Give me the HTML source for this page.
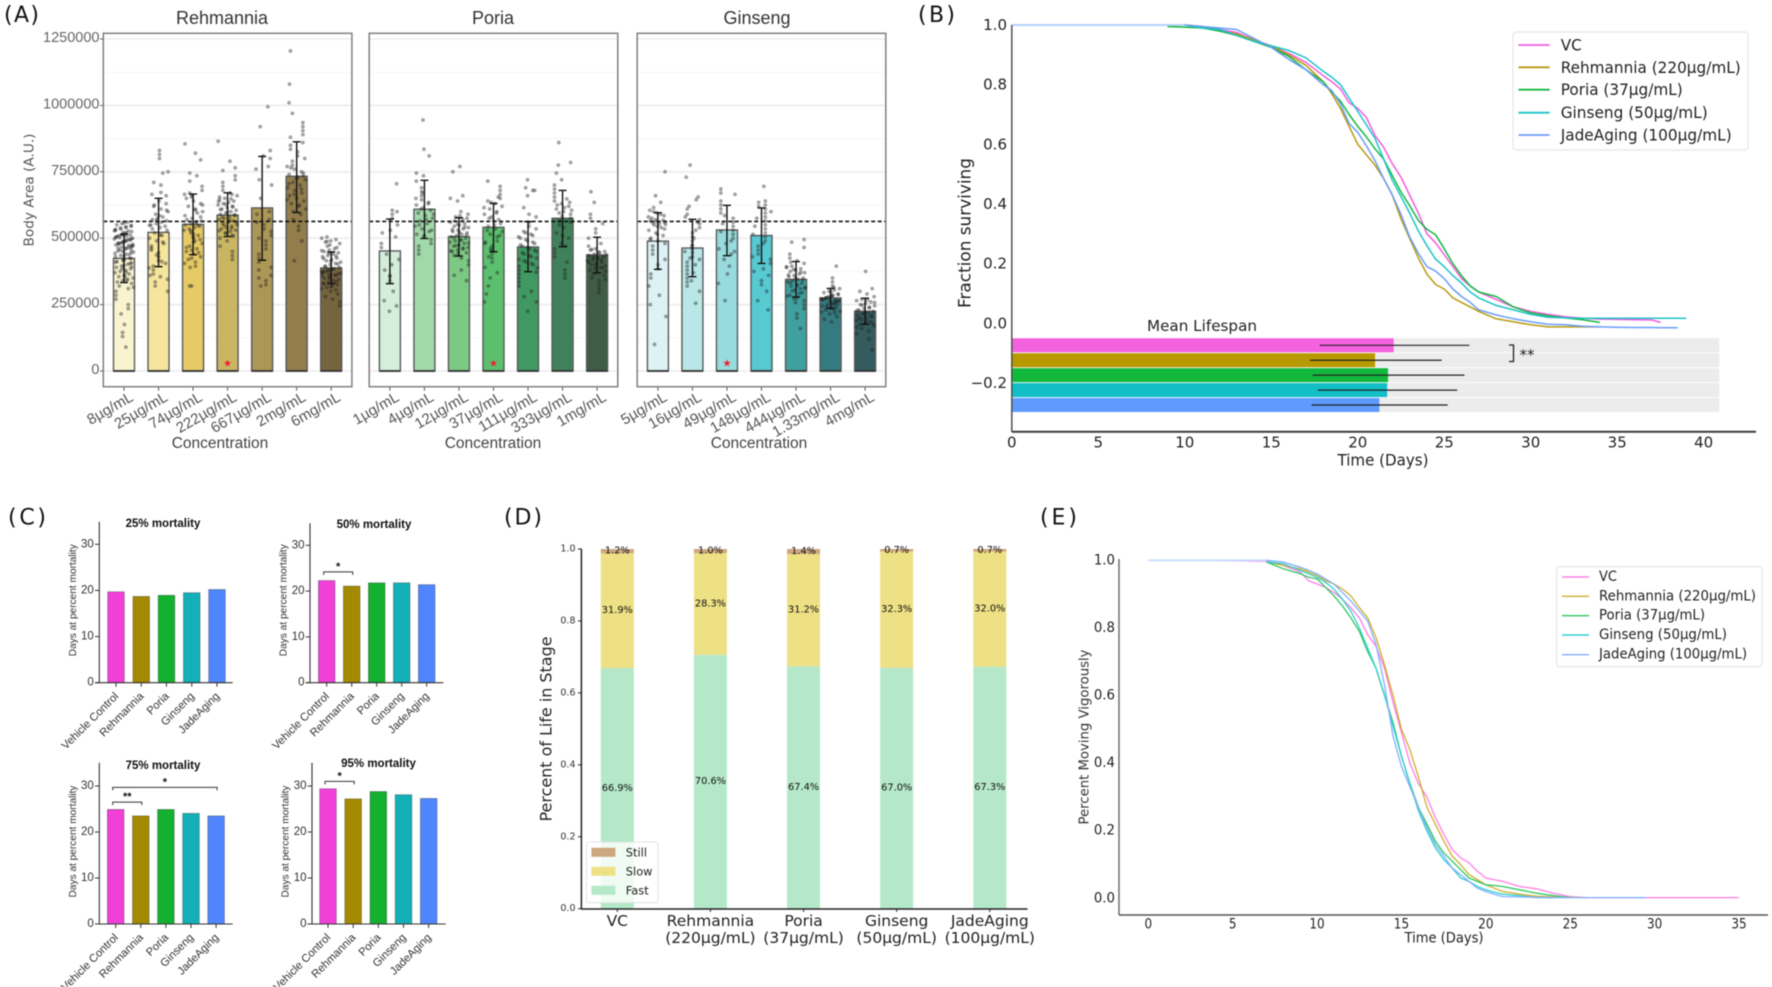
<!DOCTYPE html>
<html lang="en">
<head>
<meta charset="utf-8">
<title>Body area, lifespan and movement figure</title>
<style>
html,body{margin:0;padding:0;background:#fff;}
body{width:1772px;height:987px;overflow:hidden;}
#fig{display:block;filter:blur(0.45px);}
</style>
</head>
<body>
<svg id="fig" xmlns="http://www.w3.org/2000/svg" width="1772" height="987" viewBox="0 0 1772 987" font-family="'Liberation Sans',sans-serif">
  <rect width="1772" height="987" fill="#fff"/>
  <g id="panelA">
    <text x="4" y="22" font-size="22" font-family="'DejaVu Sans',sans-serif" fill="#111" textLength="35" lengthAdjust="spacing">(A)</text>
  </g>
  <g id="panelB">
    <text x="918" y="22" font-size="22" font-family="'DejaVu Sans',sans-serif" fill="#111" textLength="37" lengthAdjust="spacing">(B)</text>
  </g>
  <g id="panelC">
    <text x="8" y="524.5" font-size="22" font-family="'DejaVu Sans',sans-serif" fill="#111" textLength="38" lengthAdjust="spacing">(C)</text>
  </g>
  <g id="panelD">
    <text x="504" y="524.5" font-size="22" font-family="'DejaVu Sans',sans-serif" fill="#111" textLength="38" lengthAdjust="spacing">(D)</text>
  </g>
  <g id="panelE">
    <text x="1040" y="524.5" font-size="22" font-family="'DejaVu Sans',sans-serif" fill="#111" textLength="37" lengthAdjust="spacing">(E)</text>
  </g>
</svg>
<script>
/* ---------- Panel A data ---------- */
const aYTicks = [0, 250000, 500000, 750000, 1000000, 1250000];
const aReference = 563000;
const rehmanniaLabels = ["8µg/mL","25µg/mL","74µg/mL","222µg/mL","667µg/mL","2mg/mL","6mg/mL"];
const rehmanniaMeans = [424,522,552,587,614,733,388];
const rehmanniaUpper = [515,650,666,671,808,863,448];
const rehmanniaLower = [333,393,438,506,417,597,329];
const rehmanniaDots = [
 [90,130,145,175,215,235,250,270,285,300,310,315,320,330,335,340,345,350,355,360,365,370,375,380,385,390,395,398,402,405,410,412,418,420,425,430,435,440,445,448,452,455,460,462,465,468,470,472,475,478,480,483,485,488,490,492,495,498,500,503,505,507,510,513,515,518,520,525,528,530,535,540,545,550,555,560,342,356,372,384,392,407,416,423,433,438,443,450,457,463,467,473,477,482,487,493,497,502,508,512,522,527,533,538,543,548,558],
 [300,320,335,345,355,365,380,395,405,415,430,445,455,470,480,490,500,510,520,530,540,545,550,555,560,565,570,575,580,590,600,610,620,630,640,660,665,700,710,745,750,800,815,830,360,388,412,437,462,485,512,535,548,568,585,605,625,672],
 [320,320,390,395,410,420,430,440,450,455,460,470,480,490,495,505,510,520,530,535,540,545,550,555,560,565,570,575,585,595,600,610,620,630,640,650,655,665,670,680,695,715,735,745,795,820,855,405,425,445,465,485,500,515,528,548,562,580,605,625,660],
 [420,435,450,470,490,500,510,520,525,530,535,540,545,550,555,560,565,570,575,580,585,590,595,600,605,610,615,620,625,630,635,640,645,650,660,670,680,695,710,720,735,755,765,790,865,508,518,528,538,548,558,568,578,588,598,608,618,628,638,648,655,665],
 [320,325,340,350,360,380,390,410,425,440,460,475,490,500,510,525,535,550,560,570,590,600,650,700,720,760,770,800,810,830,920,995],
 [415,490,530,545,570,590,600,610,620,630,640,650,660,670,680,690,700,710,720,730,735,740,750,760,770,775,790,800,810,825,835,850,860,880,890,905,920,935,970,1010,1080,1205,625,645,665,685,705,725,745,765],
 [245,260,270,280,290,300,305,310,315,320,325,330,335,340,345,350,355,360,362,365,368,370,372,375,378,380,385,390,395,400,405,410,415,420,425,430,435,440,445,450,455,460,470,480,485,490,495,500,505,318,328,338,348,358,364,374,383,393,403,413,423,433,443,453,465,475,488]
];
const poriaLabels = ["1µg/mL","4µg/mL","12µg/mL","37µg/mL","111µg/mL","333µg/mL","1mg/mL"];
const poriaMeans = [452,609,506,541,467,575,437];
const poriaUpper = [572,718,577,631,562,680,504];
const poriaLower = [329,499,433,449,374,468,370];
const poriaDots = [
 [225,245,265,300,340,355,380,400,420,440,465,480,505,530,550,575,590,605,705,360,520,600],
 [440,455,470,480,495,505,515,525,535,545,555,565,575,585,595,605,615,625,635,645,660,675,690,715,735,745,810,835,945,510,530,550,570,590,610,630,650,670],
 [340,360,380,400,415,425,435,445,450,455,460,465,470,475,480,485,490,495,500,505,510,515,520,525,530,535,540,545,550,555,560,570,580,590,600,640,650,660,750,770,442,452,462,472,482,492,502,512,522,532,542,552,565,575,585],
 [260,290,320,350,370,390,410,425,440,455,470,480,490,505,515,525,535,545,555,565,570,580,590,600,610,620,630,640,650,665,680,695,715,430,460,485,510,530,550,575,595,615,635,655],
 [225,260,280,300,320,335,350,365,380,395,405,415,425,435,445,455,465,475,485,495,505,515,525,535,545,560,580,590,615,660,680,680,690,720,372,388,400,410,420,430,440,450,460,470,480,490,500,510,520],
 [350,365,380,410,430,445,460,480,500,520,540,560,575,590,600,610,620,630,640,655,670,685,700,720,745,775,785,860,470,510,550,565,582,595,605,615,625,635,648],
 [295,310,325,340,350,360,370,380,385,390,395,400,405,410,415,420,425,430,435,440,445,450,455,460,470,480,500,520,535,555,575,590,635,675,345,365,375,388,398,408,418,428,438,448,458]
];
const ginsengLabels = ["5µg/mL","16µg/mL","49µg/mL","148µg/mL","444µg/mL","1.33mg/mL","4mg/mL"];
const ginsengMeans = [489,463,531,510,345,275,225];
const ginsengUpper = [596,571,624,614,412,311,274];
const ginsengLower = [383,355,434,405,279,236,176];
const ginsengDots = [
 [100,205,250,285,320,350,365,385,400,420,440,455,470,480,490,500,510,520,530,540,550,555,560,565,570,580,590,600,615,635,660,750,495,515,535,545,552,558,562,568,575,585,595,605],
 [255,300,320,335,350,365,380,395,410,420,430,445,460,475,490,505,520,540,555,570,590,620,655,730,775,340,370,400,425,450,470,500,530,560,580,610,645],
 [265,330,365,395,420,440,460,480,500,515,530,545,560,575,595,610,625,640,665,670,685,450,490,525,555,585],
 [230,265,300,325,340,360,385,405,420,440,455,470,490,505,520,535,550,565,580,595,610,625,640,695,375,430,480,515,545,575,600,620,635],
 [160,200,215,235,250,265,275,285,295,305,310,315,320,325,330,335,340,345,350,355,360,365,370,375,380,385,390,395,405,415,425,440,465,485,495,258,272,282,292,302,312,322,332,342,352,362,372,382,392,410],
 [185,195,205,215,220,225,230,235,240,245,250,255,258,260,263,265,268,270,273,275,278,280,283,285,290,295,300,305,310,320,335,350,395,222,232,242,248,252,262,267,272,277,282,288,298,315],
 [80,120,140,150,160,170,175,180,185,190,195,200,205,210,215,220,225,230,235,240,245,250,255,260,265,270,280,290,300,310,375,165,178,188,198,208,218,228,238,248,258,268]
];

/* ---------- Panel B data ---------- */
const survivalDays = [0,9,10,11,12,13,14,15,16,17,18,18.5,19,19.5,20,20.5,21,21.5,22,22.5,23,23.5,24,24.5,25,25.5,26,26.5,27,28,29,30,31,32,33,34,35,36,37,37.5,38,38.5,39];
const survivalVC = [null,null,1,.995,.985,.975,.95,.93,.905,.875,.83,.81,.785,.74,.72,.69,.63,.59,.535,.49,.43,.37,.30,.27,.23,.19,.15,.125,.105,.08,.055,.04,.03,.022,.017,.014,.013,.012,.011,.003,null,null,null];
const survivalRehmannia = [null,null,1,.995,.98,.97,.95,.93,.9,.865,.81,.77,.72,.66,.6,.565,.53,.485,.43,.35,.285,.22,.165,.13,.115,.085,.07,.055,.04,.015,.005,-.005,-.012,-.012,-.012,-.012,null,null,null,null,null,null,null];
const survivalPoria = [null,.995,.993,.99,.98,.965,.945,.925,.895,.85,.81,.775,.745,.7,.66,.625,.585,.55,.495,.44,.395,.345,.315,.297,.25,.2,.16,.125,.105,.09,.055,.035,.025,.018,.012,.003,null,null,null,null,null,null,null];
const survivalGinseng = [null,null,1,.99,.985,.965,.945,.93,.915,.89,.845,.825,.8,.755,.71,.665,.62,.55,.48,.425,.37,.31,.26,.215,.19,.16,.135,.105,.085,.06,.045,.03,.02,.018,.017,.017,.017,.017,.017,.017,.017,.017,.017];
const survivalJadeAging = [1,1,1,.995,.99,.985,.955,.925,.885,.85,.8,.78,.735,.67,.64,.595,.545,.485,.43,.365,.29,.235,.19,.175,.15,.115,.09,.07,.045,.028,.015,.005,-.003,-.005,-.01,-.012,-.013,-.014,-.014,-.015,-.015,-.015,null];
const meanLifespan = [22.08,21.0,21.75,21.7,21.25];
const lifespanErrLow = [17.8,17.23,17.4,17.7,17.33];
const lifespanErrHigh = [26.46,24.85,26.17,25.75,25.2];
const lifespanLimit = 40.9;
const bXTicks = [0,5,10,15,20,25,30,35,40];
const bYTicks = [1.0,0.8,0.6,0.4,0.2,0.0,-0.2];
const seriesNames = ["VC","Rehmannia (220µg/mL)","Poria (37µg/mL)","Ginseng (50µg/mL)","JadeAging (100µg/mL)"];

/* ---------- Panel C data ---------- */
const mortalityGroups = ["Vehicle Control","Rehmannia","Poria","Ginseng","JadeAging"];
const mortality25 = [19.7,18.7,18.95,19.5,20.2];
const mortality50 = [22.3,21.1,21.8,21.8,21.4];
const mortality75 = [24.9,23.5,24.9,24.05,23.5];
const mortality95 = [29.4,27.2,28.8,28.1,27.3];
const mortalityTicks = [0,10,20,30];

/* ---------- Panel D data ---------- */
const stageGroups = [["VC"],["Rehmannia","(220µg/mL)"],["Poria","(37µg/mL)"],["Ginseng","(50µg/mL)"],["JadeAging","(100µg/mL)"]];
const stageFast = [66.9,70.6,67.4,67.0,67.3];
const stageSlow = [31.9,28.3,31.2,32.3,32.0];
const stageStill = [1.2,1.0,1.4,0.7,0.7];
const stageTicks = [0,0.2,0.4,0.6,0.8,1.0];

/* ---------- Panel E data ---------- */
const moveDays = [0,4,7,8,9,9.5,10,10.5,11,11.5,12,12.5,13,13.5,14,14.5,15,15.5,16,16.5,17,17.5,18,18.5,19,19.5,20,20.5,21,22,23,24,25,26,29.5,35];
const moveVC = [null,1,.997,.985,.965,.94,.93,.92,.905,.885,.86,.83,.78,.745,.68,.58,.49,.4,.34,.3,.24,.19,.145,.12,.105,.08,.06,.055,.05,.035,.028,.015,.005,.002,.002,.002];
const moveRehmannia = [null,null,.995,.985,.975,.965,.955,.94,.93,.915,.895,.86,.83,.77,.69,.6,.5,.44,.36,.27,.22,.17,.125,.1,.07,.055,.04,.03,.02,.012,.006,.004,.003,.002,null,null];
const movePoria = [null,null,.995,.975,.96,.95,.945,.92,.895,.865,.83,.79,.73,.68,.6,.52,.42,.34,.27,.22,.17,.135,.11,.085,.06,.05,.04,.038,.035,.025,.015,.008,.002,null,null,null];
const moveGinseng = [null,null,.995,.99,.97,.96,.95,.935,.915,.885,.85,.8,.74,.68,.6,.51,.42,.34,.26,.2,.15,.115,.09,.06,.05,.035,.025,.018,.012,.008,.002,.002,null,null,null,null];
const moveJadeAging = [1,1,1,.995,.98,.97,.96,.945,.93,.905,.88,.85,.82,.75,.63,.48,.39,.33,.27,.21,.16,.125,.09,.07,.05,.03,.02,.012,.005,.004,.003,.002,.002,.002,.002,null];
const eXTicks = [0,5,10,15,20,25,30,35];
const eYTicks = [0,0.2,0.4,0.6,0.8,1.0];

/* ---------- helpers ---------- */
const NS = "http://www.w3.org/2000/svg";
const LS = "'Liberation Sans',sans-serif";
const DV = "'DejaVu Sans',sans-serif";
function mk(parent, tag, attrs, content) {
  const el = document.createElementNS(NS, tag);
  for (const k in attrs) el.setAttribute(k, attrs[k]);
  if (content !== undefined) el.textContent = content;
  parent.appendChild(el);
  return el;
}
function scale(d0, d1, r0, r1) { return v => r0 + (v - d0) * (r1 - r0) / (d1 - d0); }
function label(parent, x, y, s, size, fill, anchor, family, rot, len) {
  const a = {x:x, y:y, "font-size":size, fill:fill, "text-anchor":anchor, "dominant-baseline":"central", "font-family":family};
  if (rot) a.transform = "rotate(" + rot + " " + x + " " + y + ")";
  if (len) { a.textLength = len; a.lengthAdjust = "spacingAndGlyphs"; }
  return mk(parent, "text", a, s);
}
function pointsOf(days, vals, xs, ys) {
  const p = [];
  vals.forEach((v, i) => { if (v !== null) p.push(xs(days[i]).toFixed(1) + "," + ys(v).toFixed(1)); });
  return p.join(" ");
}
function squeezedWidth(s, size, factor) {
  const digits = s.replace(".", "").length;
  const dots = s.length - digits;
  return (digits * 0.636 + dots * 0.318) * size * factor;
}

/* ---------- Panel A ---------- */
(function () {
  const root = document.getElementById("panelA");
  const yA = scale(0, 1250000, 371, 39);
  const panels = [
    {title:"Rehmannia", left:103.3, labels:rehmanniaLabels, means:rehmanniaMeans, up:rehmanniaUpper, lo:rehmanniaLower, dots:rehmanniaDots, star:3, titleX:222, concX:220,
     colors:["#f9f3d0","#f6e59c","#e5ca66","#c9b562","#ad9757","#927d4b","#75653f"]},
    {title:"Poria", left:369.2, labels:poriaLabels, means:poriaMeans, up:poriaUpper, lo:poriaLower, dots:poriaDots, star:3, titleX:493, concX:493,
     colors:["#d3eedb","#a2d9aa","#7cc984","#5cbf6e","#409862","#3f825a","#3f5d45"]},
    {title:"Ginseng", left:637.2, labels:ginsengLabels, means:ginsengMeans, up:ginsengUpper, lo:ginsengLower, dots:ginsengDots, star:2, titleX:757, concX:759,
     colors:["#dcf2f5","#b9e6e7","#98dbde","#57c9d1","#409f9f","#347b7f","#345b5d"]}
  ];
  panels.forEach((pn) => {
    const w = 248.6, right = pn.left + w, top = 33.3, bot = 386.7;
    const g = mk(root, "g", {});
    
    
    const ttl = label(g, pn.titleX, 18, pn.title, 18, "#333", "middle", LS);
    
    
    for (let t = 0; t <= 1250000; t += 125000) {
      const major = t % 250000 === 0;
      const gl = mk(g, "line", {x1:pn.left, x2:right, y1:yA(t), y2:yA(t), stroke: major ? "#eeeeee" : "#f6f6f6", "stroke-width": major ? 1.8 : 1});
      
      
    }
    const xA = scale(0, 6, pn.left + 20.7, right - 20.7);
    pn.means.forEach((m, i) => {
      const cx = xA(i), yt = yA(m * 1000), y0 = yA(0);
      const b = mk(g, "rect", {x:cx - 10.5, y:yt, width:21, height:y0 - yt, fill:pn.colors[i], stroke:"#5a5a5a", "stroke-width":1.4});
      
      
      const base = mk(g, "line", {x1:cx - 10.5, x2:cx + 10.5, y1:y0, y2:y0, stroke:"#333", "stroke-width":1.8});
      
      
      pn.dots[i].forEach((v, k) => {
        const jitter = ((k * 37 + v * 3) % 41 - 20) / 20 * 9.5;
        const d = mk(g, "circle", {cx:cx + jitter, cy:yA(v * 1000), r:1.9, fill:"#222", "fill-opacity":0.42});
        
        
      });
      const yu = yA(pn.up[i] * 1000), yl = yA(pn.lo[i] * 1000);
      const eb = mk(g, "path", {d:"M" + (cx - 4) + " " + yu + "H" + (cx + 4) + "M" + cx + " " + yu + "V" + yl + "M" + (cx - 4) + " " + yl + "H" + (cx + 4), stroke:"#111", "stroke-width":1.4, fill:"none"});
      
      
      const tk = mk(g, "line", {x1:cx, x2:cx, y1:bot, y2:bot + 4, stroke:"#555", "stroke-width":1});
      
      
      const tl = label(g, cx + 8, 396, pn.labels[i], 15, "#555", "end", LS, -30);
      
      
      if (i === pn.star) {
        const st = label(g, cx, 364, "★", 10, "#f0202c", "middle", DV);
        
        
      }
    });
    const dash = mk(g, "line", {x1:pn.left, x2:right, y1:yA(aReference), y2:yA(aReference), stroke:"#111", "stroke-width":1.6, "stroke-dasharray":"4 2.5"});
    
    
    const fr = mk(g, "rect", {x:pn.left, y:top, width:w, height:bot - top, fill:"none", stroke:"#808080", "stroke-width":1.5});
    
    
    const cl = label(g, pn.concX, 443.5, "Concentration", 15.5, "#444", "middle", LS);
    
    
  });
  aYTicks.forEach(t => {
    const tk = mk(root, "line", {x1:100, x2:103.3, y1:yA(t), y2:yA(t), stroke:"#666", "stroke-width":1});
    
    
    const tl = label(root, 99.5, yA(t) - 1, String(t), 14.5, "#666", "end", LS);
    
    
  });
  const yt = label(root, 30, 190, "Body Area (A.U.)", 13, "#555", "middle", DV, -90, 113);
  
  
})();

/* ---------- shared legend ---------- */
function drawLegend(root, box, lineX, textX, rowY, colors, size, widths, stroke) {
  const bg = mk(root, "rect", {x:box[0], y:box[1], width:box[2], height:box[3], rx:3, fill:"#fff", stroke:"#e6e6e6", "stroke-width":1.2});
  
  
  seriesNames.forEach((n, i) => {
    const ln = mk(root, "line", {x1:lineX[0], x2:lineX[1], y1:rowY[i], y2:rowY[i], stroke:colors[i], "stroke-width":stroke});
    
    
    const tx = label(root, textX, rowY[i], n, size, "#222", "start", DV, 0, widths[i]);
    
    
  });
}

/* ---------- Panel B ---------- */
(function () {
  const root = document.getElementById("panelB");
  const xB = scale(0, 40, 1011.8, 1703.7);
  const yB = scale(0, 1, 323.3, 25);
  const barColors = ["#f562e0","#b89a00","#12b83c","#12bfc6","#5f9bff"];
  const lineColors = ["#f35ce0","#b89a10","#14b840","#1cc4c8","#6a9df8"];
  meanLifespan.forEach((m, i) => {
    const y = 338.3 + i * 14.93;
    const bg = mk(root, "rect", {x:xB(0), y:y, width:xB(lifespanLimit) - xB(0), height:14, fill:"#ececec"});
    
    
    const r = mk(root, "rect", {x:xB(0), y:y, width:xB(m) - xB(0), height:14, fill:barColors[i]});
    
    
    const e = mk(root, "line", {x1:xB(lifespanErrLow[i]), x2:xB(lifespanErrHigh[i]), y1:y + 7, y2:y + 7, stroke:"#222", "stroke-width":1.2});
    
    
  });
  [survivalVC, survivalRehmannia, survivalPoria, survivalGinseng, survivalJadeAging].forEach((s, i) => {
    const pl = mk(root, "polyline", {points:pointsOf(survivalDays, s, xB, yB), fill:"none", stroke:lineColors[i], "stroke-width":1.5, "stroke-linejoin":"round"});
    
    
  });
  const head = mk(root, "line", {x1:xB(survivalDays[0]), x2:xB(survivalDays[2]), y1:yB(survivalJadeAging[0]), y2:yB(survivalJadeAging[2]), stroke:"#b5d2ff", "stroke-width":2});
  
  
  const yAxis = mk(root, "line", {x1:1011.8, x2:1011.8, y1:25, y2:431.7, stroke:"#444", "stroke-width":1.4});
  
  
  const xAxis = mk(root, "line", {x1:1011.8, x2:1756, y1:431.7, y2:431.7, stroke:"#3c3c3c", "stroke-width":2});
  
  
  bXTicks.forEach(t => {
    const tl = label(root, xB(t), 442.7, String(t), 15, "#222", "middle", DV);
    
    
  });
  bYTicks.forEach(t => {
    const s = t < 0 ? "−" + Math.abs(t).toFixed(1) : t.toFixed(1);
    const tl = label(root, 1007, yB(t), s, 15, "#222", "end", DV);
    
    
  });
  const xt = label(root, 1383, 460, "Time (Days)", 16, "#222", "middle", DV, 0, 91);
  
  
  const yt = label(root, 965.6, 233, "Fraction surviving", 17, "#222", "middle", DV, -90, 150);
  
  
  const ml = label(root, 1202, 326, "Mean Lifespan", 15, "#222", "middle", DV, 0, 110);
  
  
  const br = mk(root, "path", {d:"M1509 345H1513.5V361.5H1509", fill:"none", stroke:"#222", "stroke-width":1.3});
  
  
  const sig = label(root, 1527, 355, "**", 15, "#222", "middle", DV);
  
  
  drawLegend(root, [1513, 32, 235, 118], [1518.5, 1549.6], 1560.7, [45, 67.3, 89.7, 112.7, 135], lineColors, 16, [21, 180, 122, 147, 171], 1.8);
})();

/* ---------- Panel C ---------- */
(function () {
  const root = document.getElementById("panelC");
  const barFill = ["#f040d8","#a48a00","#14b030","#14b0b8","#4f86ff"];
  const charts = [
    {title:"25% mortality", vals:mortality25, ax:99.3, xl:95, xr:232.7, top:521.7, base:682.7, y30:544.3, cx0:116, dx:25.25, titleX:163, titleY:524, br:[]},
    {title:"50% mortality", vals:mortality50, ax:310, xl:305.7, xr:443.3, top:523.3, base:682.7, y30:545.3, cx0:326.7, dx:25, titleX:374, titleY:525, br:[{a:0,b:1,v:24.2,s:"*"}]},
    {title:"75% mortality", vals:mortality75, ax:99.3, xl:95, xr:232.7, top:762.7, base:924, y30:786, cx0:115.7, dx:25.1, titleX:163, titleY:766, br:[{a:0,b:1,v:26.5,s:"**"},{a:0,b:4,v:29.7,s:"*"}]},
    {title:"95% mortality", vals:mortality95, ax:312, xl:307.3, xr:445.7, top:762.7, base:924, y30:786, cx0:328, dx:25.17, titleX:378.5, titleY:764, br:[{a:0,b:1,v:31,s:"*"}]}
  ];
  charts.forEach(c => {
    const g = mk(root, "g", {});
    
    
    const y = scale(0, 30, c.base, c.y30);
    const x = i => c.cx0 + i * c.dx;
    c.vals.forEach((v, i) => {
      const b = mk(g, "rect", {x:x(i) - 8.3, y:y(v), width:16.6, height:c.base - y(v), fill:barFill[i], stroke:"rgba(30,30,30,0.4)", "stroke-width":0.8});
      
      
      const tk = mk(g, "line", {x1:x(i), x2:x(i), y1:c.base, y2:c.base + 4, stroke:"#333", "stroke-width":1});
      
      
      const tl = label(g, x(i) + 1, c.base + 12, mortalityGroups[i], 11.2, "#333", "end", LS, -45);
      
      
    });
    mortalityTicks.forEach(t => {
      const tk = mk(g, "line", {x1:c.ax - 4.3, x2:c.ax, y1:y(t), y2:y(t), stroke:"#333", "stroke-width":1});
      
      
      const tl = label(g, c.ax - 5.5, y(t), String(t), 11.5, "#333", "end", LS);
      
      
    });
    const ya = mk(g, "line", {x1:c.ax, x2:c.ax, y1:c.top, y2:c.base, stroke:"#333", "stroke-width":1.1});
    
    
    const xa = mk(g, "line", {x1:c.xl, x2:c.xr, y1:c.base, y2:c.base, stroke:"#333", "stroke-width":1.1});
    
    
    const tt = label(g, c.titleX, c.titleY, c.title, 11.5, "#111", "middle", LS);
    tt.setAttribute("font-weight", "bold");
    
    
    const yl = label(g, c.ax - 26, c.base - 82.5, "Days at percent mortality", 10, "#333", "middle", LS, -90, 112);
    
    
    c.br.forEach(b => {
      const x1 = x(b.a) - 3, x2 = x(b.b) + 1, yy = y(b.v);
      const p = mk(g, "path", {d:"M" + x1 + " " + (yy + 3) + "V" + yy + "H" + x2 + "V" + (yy + 3), fill:"none", stroke:"#333", "stroke-width":1});
      
      
      const s = label(g, (x1 + x2) / 2, yy - 5, b.s, 11, "#111", "middle", LS);
      s.setAttribute("font-weight", "bold");
      
      
    });
  });
})();

/* ---------- Panel D ---------- */
(function () {
  const root = document.getElementById("panelD");
  const x = scale(0, 4, 617.3, 989.8);
  const y = scale(0, 1, 908.7, 549);
  const fastC = "#b5e8c8", slowC = "#eee084", stillC = "#cda77e";
  stageFast.forEach((f, i) => {
    const cx = x(i);
    const v0 = f / 100, v1 = v0 + stageSlow[i] / 100, v2 = 1;
    const r1 = mk(root, "rect", {x:cx - 16.5, y:y(v0), width:33, height:y(0) - y(v0), fill:fastC});
    
    
    const r2 = mk(root, "rect", {x:cx - 16.5, y:y(v1), width:33, height:y(v0) - y(v1), fill:slowC});
    
    
    const r3 = mk(root, "rect", {x:cx - 16.5, y:y(v2), width:33, height:y(v1) - y(v2), fill:stillC});
    
    
    const t1 = label(root, cx, y(v0 / 2), f.toFixed(1) + "%", 9.8, "#111", "middle", DV);
    
    
    const t2 = label(root, cx, y((v0 + v1) / 2), stageSlow[i].toFixed(1) + "%", 9.8, "#111", "middle", DV);
    
    
    const t3 = label(root, cx, y((v1 + v2) / 2), stageStill[i].toFixed(1) + "%", 9.8, "#111", "middle", DV);
    
    
    const tk = mk(root, "line", {x1:cx, x2:cx, y1:908.7, y2:912, stroke:"#222", "stroke-width":1});
    
    
    stageGroups[i].forEach((line, k) => {
      const tl = label(root, cx, 921 + k * 17, line, 15.5, "#222", "middle", DV);
      
      
    });
  });
  stageTicks.forEach(t => {
    const tk = mk(root, "line", {x1:578, x2:581.4, y1:y(t), y2:y(t), stroke:"#222", "stroke-width":1});
    
    
    const tl = label(root, 575.5, y(t), t.toFixed(1), 9.5, "#333", "end", DV);
    
    
  });
  const ya = mk(root, "line", {x1:581.4, x2:581.4, y1:549, y2:909, stroke:"#222", "stroke-width":1.5});
  
  
  const xa = mk(root, "line", {x1:581, x2:1027.5, y1:909, y2:909, stroke:"#222", "stroke-width":1.5});
  
  
  const yt = label(root, 546, 729, "Percent of Life in Stage", 16, "#222", "middle", DV, -90, 185);
  
  
  const lg = mk(root, "rect", {x:586.5, y:842, width:71.5, height:60.7, rx:2, fill:"#fff", "fill-opacity":0.8, stroke:"#ddd", "stroke-width":0.8});
  
  
  [["Still", stillC, 852.3], ["Slow", slowC, 871.3], ["Fast", fastC, 890.3]].forEach(e => {
    const sw = mk(root, "rect", {x:591.4, y:e[2] - 4.5, width:24, height:9, fill:e[1]});
    
    
    const tx = label(root, 625.8, e[2], e[0], 11.4, "#222", "start", DV);
    
    
  });
})();

/* ---------- Panel E ---------- */
(function () {
  const root = document.getElementById("panelE");
  const xE = scale(0, 35, 1148.3, 1739);
  const yE = scale(0, 1, 898.3, 560.3);
  const colors = ["#ff7ee6","#cfae2f","#2ec860","#30cfcf","#80b0ff"];
  [moveVC, moveRehmannia, movePoria, moveGinseng, moveJadeAging].forEach((s, i) => {
    const pl = mk(root, "polyline", {points:pointsOf(moveDays, s, xE, yE), fill:"none", stroke:colors[i], "stroke-width":1.3, "stroke-linejoin":"round"});
    
    
  });
  const head = mk(root, "line", {x1:xE(moveDays[0]), x2:xE(moveDays[2]), y1:yE(moveJadeAging[0]), y2:yE(moveJadeAging[2]), stroke:"#c4dcff", "stroke-width":1.8});
  
  
  const ya = mk(root, "line", {x1:1119, x2:1119, y1:559, y2:915, stroke:"#666", "stroke-width":1.4});
  
  
  const xa = mk(root, "line", {x1:1119, x2:1768, y1:915, y2:915, stroke:"#555", "stroke-width":1.4});
  
  
  eXTicks.forEach(t => {
    const s = String(t);
    const tl = label(root, xE(t), 924.5, s, 14, "#222", "middle", DV, 0, squeezedWidth(s, 14, 0.86));
    
    
  });
  eYTicks.forEach(t => {
    const s = t.toFixed(1);
    const tl = label(root, 1115, yE(t), s, 14, "#222", "end", DV, 0, squeezedWidth(s, 14, 0.95));
    
    
  });
  const xt = label(root, 1444, 938.5, "Time (Days)", 14, "#222", "middle", DV, 0, 79);
  
  
  const yt = label(root, 1085, 737, "Percent Moving Vigorously", 13, "#333", "middle", DV, -90, 175);
  
  
  drawLegend(root, [1556.7, 566.7, 205.3, 100], [1562, 1589], 1599, [577, 596.3, 615.7, 635, 654.7], colors, 14, [18, 157, 106, 128, 148], 1.4);
})();
</script>
</body>
</html>
